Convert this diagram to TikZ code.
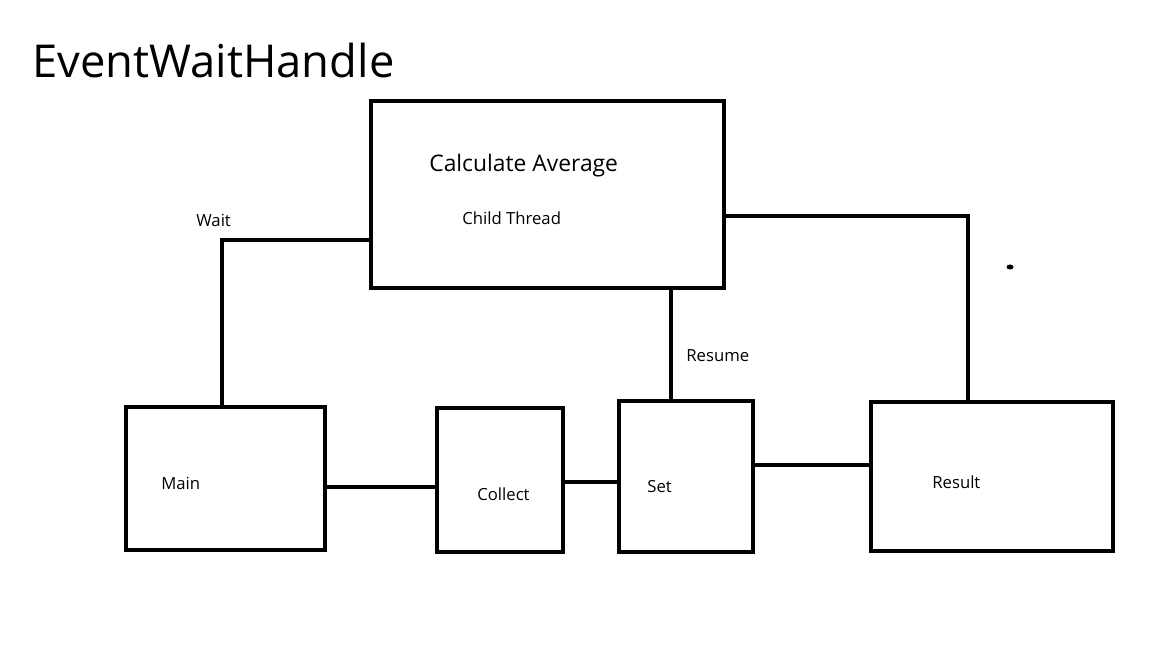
\documentclass[tikz,border=0pt]{standalone}
\usepackage{fontspec}
\setmainfont{Open Sans}
\usetikzlibrary{calc}

\tikzset{
  box/.style 2 args={draw, line width=0.08cm, minimum width=#1*0.02cm,
    minimum height=#2*0.02cm, inner sep=0pt},
  wire/.style={line width=0.08cm},
  lbl/.style={anchor=base west, inner sep=0pt, font=\fontsize{9.5}{11}\selectfont}
}

\begin{document}
\begin{tikzpicture}[x=0.02cm,y=-0.02cm]
    \useasboundingbox (0,0) rectangle (1152,648);
    % title
    \node[anchor=base west, inner sep=0pt, font=\fontsize{25.8}{30}\selectfont]
      (title) at (32,78) {EventWaitHandle};
    % boxes
    \node[box={353}{187}] (calc) at (547,195) {};
    \node[box={199}{143}] (main) at (225.5,478.5) {};
    \node[box={126}{144}] (collect) at (500,480) {};
    \node[box={134}{151}] (set) at (686,476.5) {};
    \node[box={242}{149}] (result) at (992,476.5) {};
    % texts
    \node[anchor=base west, inner sep=0pt, font=\fontsize{13}{15}\selectfont]
      (calctext) at (429,172) {Calculate Average};
    \node[lbl] (child) at (462,225) {Child Thread};
    \node[lbl] (wait) at (196,227) {Wait};
    \node[lbl] (resume) at (686,361) {Resume};
    \node[lbl] (maintext) at (161,489) {Main};
    \node[lbl] (collecttext) at (477,500) {Collect};
    \node[lbl] (settext) at (647,492) {Set};
    \node[lbl] (resulttext) at (932,488) {Result};
    % bends
    \coordinate (waitbend) at (222,240);
    \coordinate (resbend) at (968,216);
    % connectors
    \draw[wire] (calc.west |- waitbend) -- (waitbend) -- (main.north -| waitbend);
    \draw[wire] (calc.south -| 671,0) -- (set.north -| 671,0);
    \draw[wire] (calc.east |- resbend) -- (resbend) -- (result.north -| resbend);
    \draw[wire] (main.east |- 0,487) -- (collect.west |- 0,487);
    \draw[wire] (collect.east |- 0,482) -- (set.west |- 0,482);
    \draw[wire] (set.east |- 0,465) -- (result.west |- 0,465);
    % stray dot
    \fill (1010,267) ellipse (3.5 and 2.5);
  \end{tikzpicture}
\end{document}
